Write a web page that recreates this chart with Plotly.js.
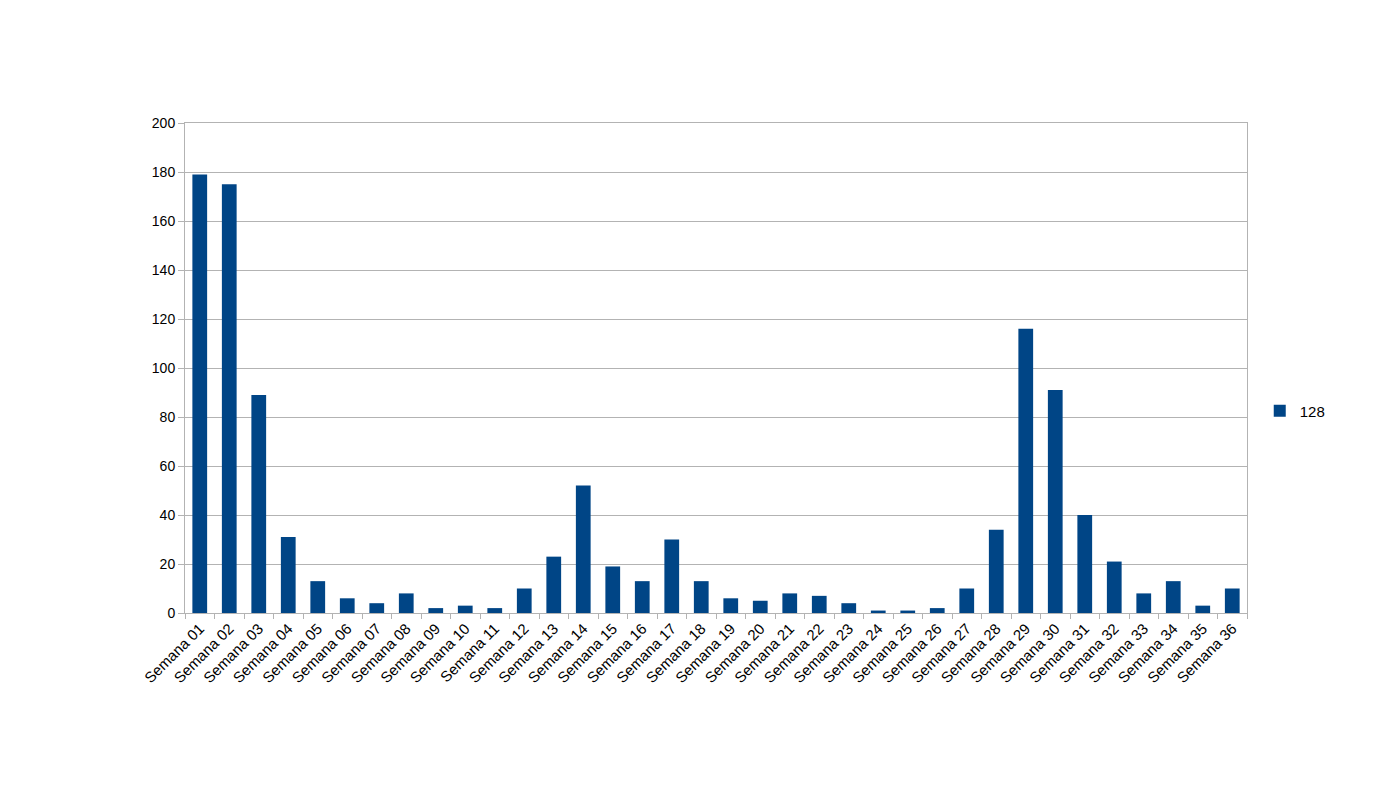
<!DOCTYPE html>
<html>
<head>
<meta charset="utf-8">
<script src="https://cdn.plot.ly/plotly-3.0.1.min.js"></script>
<style>html,body{margin:0;padding:0;background:#fff;}#chart{width:1398px;height:787px;}</style>
</head>
<body>
<div id="chart"></div>
<script>
const categories = ["Semana 01","Semana 02","Semana 03","Semana 04","Semana 05","Semana 06","Semana 07","Semana 08","Semana 09","Semana 10","Semana 11","Semana 12","Semana 13","Semana 14","Semana 15","Semana 16","Semana 17","Semana 18","Semana 19","Semana 20","Semana 21","Semana 22","Semana 23","Semana 24","Semana 25","Semana 26","Semana 27","Semana 28","Semana 29","Semana 30","Semana 31","Semana 32","Semana 33","Semana 34","Semana 35","Semana 36"];
const values128 = [179,175,89,31,13,6,4,8,2,3,2,10,23,52,19,13,30,13,6,5,8,7,4,1,1,2,10,34,116,91,40,21,8,13,3,10];
const seriesName = "128";
const yTicks = [0,20,40,60,80,100,120,140,160,180,200];

const trace = {
  type: 'bar',
  x: categories,
  y: values128,
  name: seriesName,
  marker: {color: '#004586'},
  showlegend: true
};
const layout = {
  width: 1398, height: 787,
  margin: {l: 185, r: 151, t: 123, b: 174, pad: 0},
  paper_bgcolor: '#ffffff', plot_bgcolor: '#ffffff',
  font: {family: 'Liberation Sans, Arial, sans-serif', size: 14, color: '#000'},
  bargap: 0.5,
  showlegend: true,
  legend: {x: 1.012, y: 0.412, xanchor: 'left', yanchor: 'middle', font: {size: 15}, itemwidth: 30, bgcolor: 'rgba(0,0,0,0)'},
  xaxis: {
    type: 'category',
    tickangle: -45,
    ticks: 'outside', ticklen: 5, tickcolor: '#b3b3b3',
    tickson: 'boundaries',
    showline: true, linecolor: '#b3b3b3', mirror: true,
    showgrid: false,
    tickfont: {size: 15},
    automargin: false
  },
  yaxis: {
    range: [0, 200],
    tickvals: yTicks,
    ticks: 'outside', ticklen: 6, tickcolor: '#b3b3b3',
    showline: true, linecolor: '#b3b3b3', mirror: true,
    gridcolor: '#b3b3b3', gridwidth: 1,
    zeroline: false,
    tickfont: {size: 14},
    automargin: false
  }
};
Plotly.newPlot('chart', [trace], layout, {displayModeBar: false, staticPlot: true});
</script>
</body>
</html>
